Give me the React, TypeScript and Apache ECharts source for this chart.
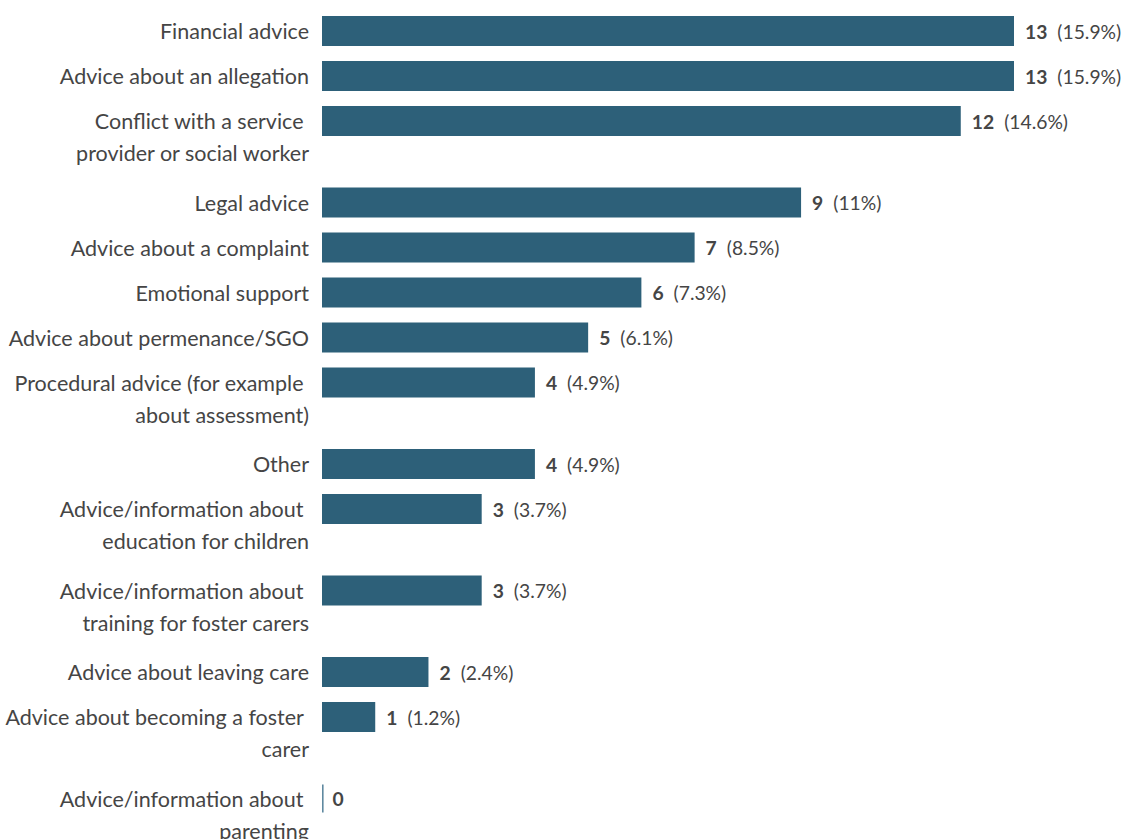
import React, { useEffect, useRef } from "react";
import * as echarts from "echarts";

const categories: string[] = [
  "Financial advice",
  "Advice about an allegation",
  "Conflict with a service \nprovider or social worker",
  "Legal advice",
  "Advice about a complaint",
  "Emotional support",
  "Advice about permenance/SGO",
  "Procedural advice (for example \nabout assessment)",
  "Other",
  "Advice/information about \neducation for children",
  "Advice/information about \ntraining for foster carers",
  "Advice about leaving care",
  "Advice about becoming a foster \ncarer",
  "Advice/information about \nparenting",
];
const counts: number[] = [13, 13, 12, 9, 7, 6, 5, 4, 4, 3, 3, 2, 1, 0];
const percents: string[] = [
  "15.9%", "15.9%", "14.6%", "11%", "8.5%", "7.3%", "6.1%",
  "4.9%", "4.9%", "3.7%", "3.7%", "2.4%", "1.2%", "",
];

const FONT = "Lato, 'Noto Sans', sans-serif";
const TEXT = "#454545";
const BAR = "#2d6079";

export default function App() {
  const ref = useRef<HTMLDivElement>(null);
  useEffect(() => {
    document.body.style.margin = "0";
    document.body.style.overflow = "hidden";
    if (!ref.current) return;
    const chart = echarts.init(ref.current, undefined, { renderer: "svg" });

    // layout: row height depends on the number of label lines
    const single = 45;
    const double = 81.5;
    let acc = 0;
    const data = categories.map((c, i) => {
      const lines = c.split("\n").length;
      const center = acc + single / 2;
      acc += lines > 1 ? double : single;
      return [counts[i], center, i];
    });

    const gridLeft = 322;
    const pxPerUnit = 692 / 13;
    const xMax = 15;

    chart.setOption({
      animation: false,
      grid: { left: gridLeft, top: 8.5, width: pxPerUnit * xMax, height: 830 },
      xAxis: { type: "value", min: 0, max: xMax, show: false },
      yAxis: { type: "value", min: 0, max: 830, inverse: true, show: false },
      series: [
        {
          type: "custom",
          data,
          clip: false,
          renderItem: (params: any, api: any) => {
            const v = api.value(0);
            const yc = api.value(1);
            const idx = api.value(2);
            const s = api.coord([0, yc]);
            const e = api.coord([v, yc]);
            const zero = v === 0;
            const w = zero ? 1.6 : e[0] - s[0];
            const h = zero ? 28 : 30;
            const pct = percents[idx];
            const label = pct ? `{b|${v}}{n|(${pct})}` : `{b|${v}}`;
            return {
              type: "group",
              children: [
                {
                  type: "rect",
                  shape: { x: s[0], y: s[1] - h / 2, width: w, height: h },
                  style: { fill: zero ? "#5f89a0" : BAR },
                },
                {
                  type: "text",
                  x: s[0] + w + (zero ? 9 : 11),
                  y: s[1],
                  style: {
                    text: label,
                    verticalAlign: "middle",
                    align: "left",
                    rich: {
                      b: {
                        fontFamily: FONT,
                        fontSize: 19.3,
                        fontWeight: "bold",
                        fill: TEXT,
                        padding: [0, 10, 0, 0],
                      },
                      n: { fontFamily: FONT, fontSize: 19.3, fill: TEXT },
                    },
                  },
                },
                {
                  type: "text",
                  x: s[0] - 13,
                  y: s[1] - 16,
                  style: {
                    text: categories[idx],
                    align: "right",
                    verticalAlign: "top",
                    lineHeight: 32,
                    fontFamily: FONT,
                    fontSize: 21.5,
                    fill: TEXT,
                  },
                },
              ],
            };
          },
        },
      ],
    });
    return () => chart.dispose();
  }, []);
  return <div ref={ref} style={{ width: 1129, height: 839 }} />;
}
